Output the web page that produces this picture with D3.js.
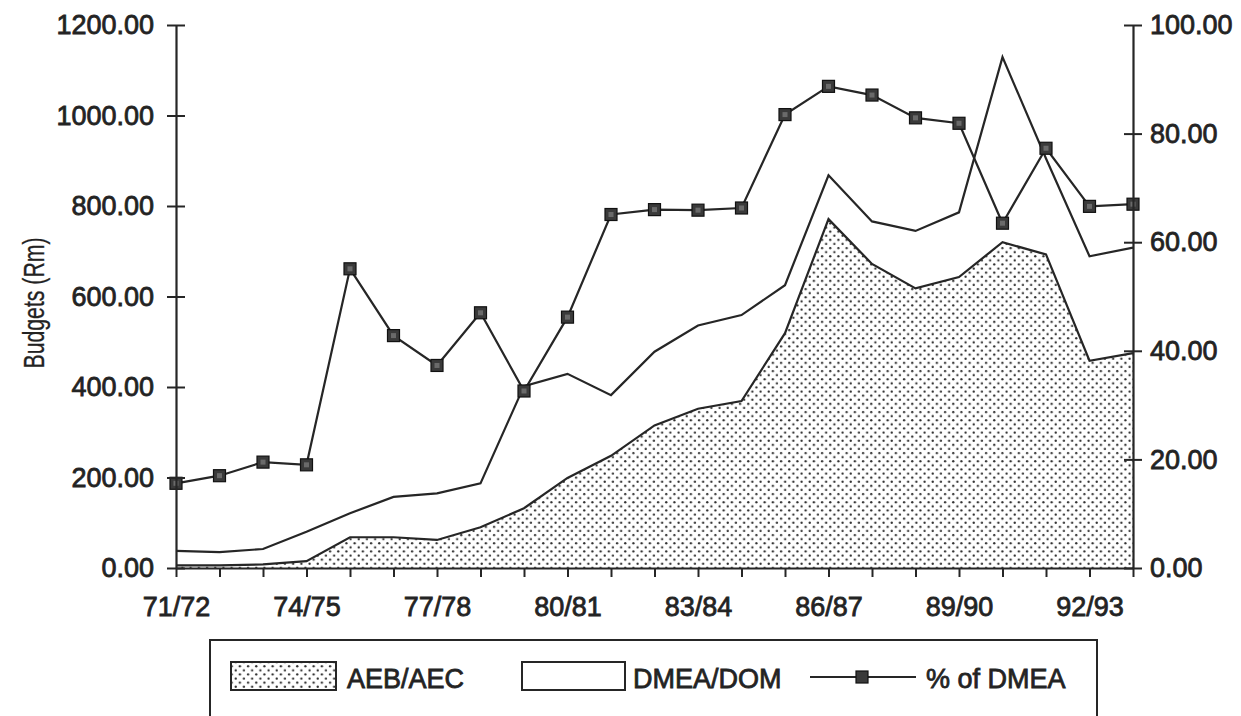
<!DOCTYPE html>
<html>
<head>
<meta charset="utf-8">
<script src="https://cdn.jsdelivr.net/npm/d3@7"></script>
<style>
  html, body { margin: 0; padding: 0; background: #ffffff; }
  svg { display: block; }
  text { font-family: "Liberation Sans", Arial, Helvetica, sans-serif; fill: #222; }
</style>
</head>
<body>
<svg id="chart" width="1241" height="716"></svg>
<script>
// ---------------- DATA ----------------
const categories = ["71/72","72/73","73/74","74/75","75/76","76/77","77/78","78/79","79/80","80/81",
                    "81/82","82/83","83/84","84/85","85/86","86/87","87/88","88/89","89/90","90/91",
                    "91/92","92/93","93/94"];
const aebValues  = [6, 6, 8, 15, 68, 68, 62, 90, 132, 199, 248, 315, 352, 369, 519, 771, 672, 618, 643, 720, 693, 458, 475];
const dmeaValues = [38, 35, 42, 80, 121, 157, 165, 187, 402, 429, 382, 478, 536, 559, 625, 868, 766, 745, 786, 1129, 905, 689, 708];
const pctValues  = [15.6, 17.0, 19.5, 19.0, 55.1, 42.8, 37.3, 47.0, 32.6, 46.2, 65.1, 66.0, 65.9, 66.3, 83.5, 88.7, 87.1, 82.9, 81.9, 63.5, 77.3, 66.6, 67.0];
const xTickLabels = ["71/72","74/75","77/78","80/81","83/84","86/87","89/90","92/93"];
const leftTicks  = [0, 200, 400, 600, 800, 1000, 1200];
const rightTicks = [0, 20, 40, 60, 80, 100];
const leftTitle = "Budgets (Rm)";
const legendLabels = ["AEB/AEC", "DMEA/DOM", "% of DMEA"];

// ---------------- LAYOUT ----------------
const ink = "#262626";
const svg = d3.select("#chart");
const x0 = 176, x1 = 1133, yBottom = 568, yTop = 25;

const x = d3.scalePoint().domain(categories).range([x0, x1]).padding(0);
const yL = d3.scaleLinear().domain([0, 1200]).range([yBottom, yTop]);
const yR = d3.scaleLinear().domain([0, 100]).range([yBottom, yTop]);

// stipple pattern
const defs = svg.append("defs");
const P = 8.2;
const pat = defs.append("pattern").attr("id", "stipple")
  .attr("patternUnits", "userSpaceOnUse").attr("width", P).attr("height", P);
pat.append("rect").attr("width", P).attr("height", P).attr("fill", "#fff");
pat.append("circle").attr("cx", P / 4).attr("cy", P / 4).attr("r", 1.15).attr("fill", "#2e2e2e");
pat.append("circle").attr("cx", 3 * P / 4).attr("cy", 3 * P / 4).attr("r", 1.15).attr("fill", "#2e2e2e");

const rows = categories.map((c, i) => ({ c, aeb: aebValues[i], dmea: dmeaValues[i], pct: pctValues[i] }));

// DMEA area (white) + line
const dmeaArea = d3.area().x(d => x(d.c)).y0(yL(0)).y1(d => yL(d.dmea));
svg.append("path").datum(rows).attr("d", dmeaArea).attr("fill", "#fff");
svg.append("path").datum(rows)
  .attr("d", d3.line().x(d => x(d.c)).y(d => yL(d.dmea)))
  .attr("fill", "none").attr("stroke", ink).attr("stroke-width", 2.2);

// AEB area (stippled)
const aebArea = d3.area().x(d => x(d.c)).y0(yL(0)).y1(d => yL(d.aeb));
svg.append("path").datum(rows).attr("d", aebArea).attr("fill", "url(#stipple)");
svg.append("path").datum(rows)
  .attr("d", d3.line().x(d => x(d.c)).y(d => yL(d.aeb)))
  .attr("fill", "none").attr("stroke", ink).attr("stroke-width", 2.2);

// % line with markers
svg.append("path").datum(rows)
  .attr("d", d3.line().x(d => x(d.c)).y(d => yR(d.pct)))
  .attr("fill", "none").attr("stroke", ink).attr("stroke-width", 2.2);
const mk = svg.append("g").selectAll("g").data(rows).join("g")
  .attr("transform", d => `translate(${x(d.c)},${yR(d.pct)})`);
mk.append("rect").attr("x", -6).attr("y", -6).attr("width", 12).attr("height", 12)
  .attr("fill", "#3a3a3a").attr("stroke", "#111").attr("stroke-width", 1.2);
mk.append("rect").attr("x", -2.5).attr("y", -2.5).attr("width", 5).attr("height", 5)
  .attr("fill", "#6a6a6a");

// ---------------- AXES ----------------
const fmt = d3.format(".2f");
function styleAxis(g, cross) {
  g.select(".domain").attr("stroke", ink).attr("stroke-width", 2.2);
  g.selectAll(".tick line").attr("stroke", ink).attr("stroke-width", 2);
  if (cross) g.selectAll(".tick line").attr("x1", -9).attr("x2", 9);
  g.selectAll(".tick text")
    .style("font-family", '"Liberation Sans", Arial, sans-serif')
    .attr("font-size", 27).attr("fill", ink)
    .attr("stroke", ink).attr("stroke-width", 0.8);
}

const gL = svg.append("g").attr("transform", `translate(${x0},0)`)
  .call(d3.axisLeft(yL).tickValues(leftTicks).tickFormat(fmt).tickSize(9).tickSizeOuter(0).tickPadding(13));
styleAxis(gL, true);

const gR = svg.append("g").attr("transform", `translate(${x1},0)`)
  .call(d3.axisRight(yR).tickValues(rightTicks).tickFormat(fmt).tickSize(9).tickSizeOuter(0).tickPadding(8));
styleAxis(gR, true);

const gX = svg.append("g").attr("transform", `translate(0,${yBottom})`)
  .call(d3.axisBottom(x).tickValues(categories).tickSize(9).tickSizeOuter(0).tickPadding(20)
    .tickFormat(c => xTickLabels.includes(c) ? c : ""));
styleAxis(gX, false);
gX.selectAll(".tick line").attr("y1", 0).attr("y2", 9);

// y title
svg.append("text")
  .attr("transform", `translate(44,303) rotate(-90)`)
  .attr("text-anchor", "middle")
  .attr("font-size", 30)
  .attr("textLength", 131).attr("lengthAdjust", "spacingAndGlyphs")
  .style("font-family", '"Liberation Sans Narrow", "Arial Narrow", "Liberation Sans", sans-serif')
  .attr("fill", ink).attr("stroke", ink).attr("stroke-width", 0.3)
  .text(leftTitle);

// ---------------- LEGEND ----------------
const lg = svg.append("g");
lg.append("rect").attr("x", 210).attr("y", 640).attr("width", 887).attr("height", 120)
  .attr("fill", "#fff").attr("stroke", ink).attr("stroke-width", 2);
lg.append("rect").attr("x", 231).attr("y", 662).attr("width", 105).attr("height", 28)
  .attr("fill", "url(#stipple)").attr("stroke", ink).attr("stroke-width", 2);
lg.append("rect").attr("x", 522).attr("y", 662).attr("width", 103).attr("height", 28)
  .attr("fill", "#fff").attr("stroke", ink).attr("stroke-width", 2);
lg.append("line").attr("x1", 810).attr("x2", 916).attr("y1", 677).attr("y2", 677)
  .attr("stroke", ink).attr("stroke-width", 2.2);
lg.append("rect").attr("x", 856).attr("y", 671).attr("width", 12).attr("height", 12)
  .attr("fill", "#3a3a3a").attr("stroke", "#111").attr("stroke-width", 1.2);
const legendX = [347, 633, 926];
legendLabels.forEach((t, i) => {
  lg.append("text").attr("x", legendX[i]).attr("y", 688)
    .attr("font-size", 27).attr("fill", ink).attr("stroke", ink).attr("stroke-width", 0.8)
    .text(t);
});
</script>
</body>
</html>
